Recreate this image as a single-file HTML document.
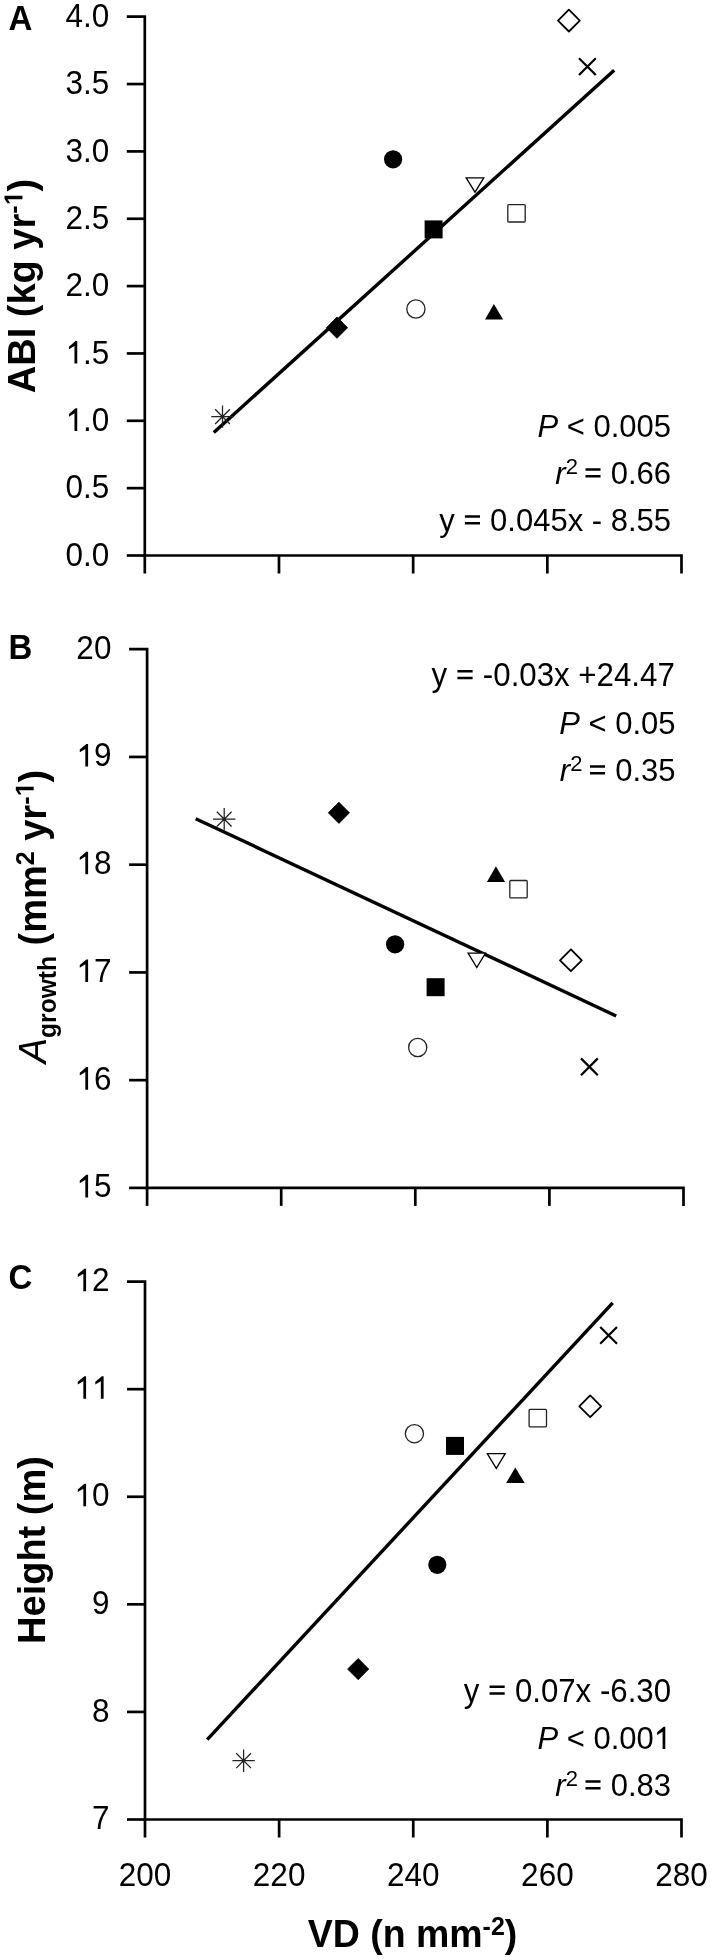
<!DOCTYPE html>
<html><head><meta charset="utf-8"><title>VD regressions</title>
<style>
html,body{margin:0;padding:0;background:#fff;}
body{width:711px;height:1960px;overflow:hidden;}
svg{display:block;will-change:transform;}
text{font-family:"Liberation Sans",sans-serif;fill:#000;}
.h{fill:transparent;}
</style></head><body>
<svg width="711" height="1960" viewBox="0 0 711 1960">
<rect width="711" height="1960" fill="#fff"/>
<path d="M126.8 16.7H144.8V555.5H681.5V573.5" fill="none" stroke="#000" stroke-width="2.7" stroke-linejoin="miter" stroke-linecap="butt"/>
<line x1="126.8" y1="84.05" x2="144.8" y2="84.05" stroke="#000" stroke-width="2.7"/>
<line x1="126.8" y1="151.4" x2="144.8" y2="151.4" stroke="#000" stroke-width="2.7"/>
<line x1="126.8" y1="218.75" x2="144.8" y2="218.75" stroke="#000" stroke-width="2.7"/>
<line x1="126.8" y1="286.1" x2="144.8" y2="286.1" stroke="#000" stroke-width="2.7"/>
<line x1="126.8" y1="353.45" x2="144.8" y2="353.45" stroke="#000" stroke-width="2.7"/>
<line x1="126.8" y1="420.8" x2="144.8" y2="420.8" stroke="#000" stroke-width="2.7"/>
<line x1="126.8" y1="488.15" x2="144.8" y2="488.15" stroke="#000" stroke-width="2.7"/>
<line x1="126.8" y1="555.5" x2="144.8" y2="555.5" stroke="#000" stroke-width="2.7"/>
<line x1="144.8" y1="555.5" x2="144.8" y2="573.5" stroke="#000" stroke-width="2.7"/>
<line x1="278.98" y1="555.5" x2="278.98" y2="573.5" stroke="#000" stroke-width="2.7"/>
<line x1="413.15" y1="555.5" x2="413.15" y2="573.5" stroke="#000" stroke-width="2.7"/>
<line x1="547.33" y1="555.5" x2="547.33" y2="573.5" stroke="#000" stroke-width="2.7"/>
<line x1="213.8" y1="432.5" x2="614.2" y2="70.3" stroke="#000" stroke-width="3.4" stroke-linecap="butt"/>
<path d="M211.3 416.6H233.7M222.5 405.4V427.8M215.1 409.2L229.9 424M215.1 424L229.9 409.2" stroke="#222" stroke-width="1.25" fill="none"/>
<path d="M337 317.1L347.6 327.7L337 338.3L326.4 327.7Z" fill="#000" stroke="#000" stroke-width="0.8" stroke-linejoin="round"/>
<circle cx="393.1" cy="159.3" r="9.1" fill="#000"/>
<circle cx="415.9" cy="309" r="9.1" fill="#fff" stroke="#222" stroke-width="1.3"/>
<rect x="424.6" y="220.4" width="18" height="18" fill="#000"/>
<path d="M466.2 177.9H483.8L475 192.2Z" fill="#fff" stroke="#000" stroke-width="1.3" stroke-linejoin="miter"/>
<path d="M493.9 304.1L503.1 319.6H485Z" fill="#000"/>
<rect x="507.8" y="204.6" width="17.4" height="17.4" fill="#fff" stroke="#222" stroke-width="1.3" rx="1"/>
<path d="M568.9 9.7L579.8 20.6L568.9 31.5L558 20.6Z" fill="#fff" stroke="#000" stroke-width="1.8" stroke-linejoin="round"/>
<path d="M579 58.2L595.8 75M579 75L595.8 58.2" stroke="#000" stroke-width="2.2" fill="none"/>
<path d="M129.1 649.2H147.1V1187.9H683.5V1205.9" fill="none" stroke="#000" stroke-width="2.7" stroke-linejoin="miter" stroke-linecap="butt"/>
<line x1="129.1" y1="756.94" x2="147.1" y2="756.94" stroke="#000" stroke-width="2.7"/>
<line x1="129.1" y1="864.68" x2="147.1" y2="864.68" stroke="#000" stroke-width="2.7"/>
<line x1="129.1" y1="972.42" x2="147.1" y2="972.42" stroke="#000" stroke-width="2.7"/>
<line x1="129.1" y1="1080.16" x2="147.1" y2="1080.16" stroke="#000" stroke-width="2.7"/>
<line x1="129.1" y1="1187.9" x2="147.1" y2="1187.9" stroke="#000" stroke-width="2.7"/>
<line x1="147.1" y1="1187.9" x2="147.1" y2="1205.9" stroke="#000" stroke-width="2.7"/>
<line x1="281.2" y1="1187.9" x2="281.2" y2="1205.9" stroke="#000" stroke-width="2.7"/>
<line x1="415.3" y1="1187.9" x2="415.3" y2="1205.9" stroke="#000" stroke-width="2.7"/>
<line x1="549.4" y1="1187.9" x2="549.4" y2="1205.9" stroke="#000" stroke-width="2.7"/>
<line x1="195.7" y1="818.7" x2="616.2" y2="1016" stroke="#000" stroke-width="3.4" stroke-linecap="butt"/>
<path d="M213 819.1H235.4M224.2 807.9V830.3M216.8 811.7L231.6 826.5M216.8 826.5L231.6 811.7" stroke="#222" stroke-width="1.25" fill="none"/>
<path d="M338.9 802.2L349.5 812.8L338.9 823.4L328.3 812.8Z" fill="#000" stroke="#000" stroke-width="0.8" stroke-linejoin="round"/>
<path d="M495.9 866.2L505.1 882H486.9Z" fill="#000"/>
<rect x="509.8" y="880.5" width="17.4" height="17.4" fill="#fff" stroke="#222" stroke-width="1.3" rx="1"/>
<circle cx="395.1" cy="944.3" r="9.1" fill="#000"/>
<path d="M468.1 953.1H485.5L476.8 967.5Z" fill="#fff" stroke="#000" stroke-width="1.3" stroke-linejoin="miter"/>
<rect x="426.6" y="978.2" width="18" height="18" fill="#000"/>
<circle cx="417.7" cy="1047.5" r="9.1" fill="#fff" stroke="#222" stroke-width="1.3"/>
<path d="M570.9 949.4L581.8 960.3L570.9 971.2L560 960.3Z" fill="#fff" stroke="#000" stroke-width="1.8" stroke-linejoin="round"/>
<path d="M581 1058.4L597.8 1075.2M581 1075.2L597.8 1058.4" stroke="#000" stroke-width="2.2" fill="none"/>
<path d="M127 1281.6H145V1819.5H681.5V1837.5" fill="none" stroke="#000" stroke-width="2.7" stroke-linejoin="miter" stroke-linecap="butt"/>
<line x1="127" y1="1389.18" x2="145" y2="1389.18" stroke="#000" stroke-width="2.7"/>
<line x1="127" y1="1496.76" x2="145" y2="1496.76" stroke="#000" stroke-width="2.7"/>
<line x1="127" y1="1604.34" x2="145" y2="1604.34" stroke="#000" stroke-width="2.7"/>
<line x1="127" y1="1711.92" x2="145" y2="1711.92" stroke="#000" stroke-width="2.7"/>
<line x1="127" y1="1819.5" x2="145" y2="1819.5" stroke="#000" stroke-width="2.7"/>
<line x1="145" y1="1819.5" x2="145" y2="1837.5" stroke="#000" stroke-width="2.7"/>
<line x1="279.12" y1="1819.5" x2="279.12" y2="1837.5" stroke="#000" stroke-width="2.7"/>
<line x1="413.25" y1="1819.5" x2="413.25" y2="1837.5" stroke="#000" stroke-width="2.7"/>
<line x1="547.38" y1="1819.5" x2="547.38" y2="1837.5" stroke="#000" stroke-width="2.7"/>
<line x1="207.2" y1="1739.6" x2="612.7" y2="1302.9" stroke="#000" stroke-width="3.4" stroke-linecap="butt"/>
<path d="M232.4 1760.7H254.8M243.6 1749.5V1771.9M236.2 1753.3L251 1768.1M236.2 1768.1L251 1753.3" stroke="#222" stroke-width="1.25" fill="none"/>
<path d="M358.2 1658.5L368.8 1669.1L358.2 1679.7L347.6 1669.1Z" fill="#000" stroke="#000" stroke-width="0.8" stroke-linejoin="round"/>
<circle cx="437.3" cy="1564.8" r="9.1" fill="#000"/>
<circle cx="414.4" cy="1433.7" r="9.1" fill="#fff" stroke="#222" stroke-width="1.3"/>
<rect x="446" y="1436.9" width="18" height="18" fill="#000"/>
<path d="M487.3 1453.7H505.2L496.25 1468.4Z" fill="#fff" stroke="#000" stroke-width="1.3" stroke-linejoin="miter"/>
<path d="M515.3 1467.4L524.7 1483H506.1Z" fill="#000"/>
<rect x="529.1" y="1409.4" width="17.4" height="17.4" fill="#fff" stroke="#222" stroke-width="1.3" rx="1"/>
<path d="M590.2 1395.4L601.1 1406.3L590.2 1417.2L579.3 1406.3Z" fill="#fff" stroke="#000" stroke-width="1.8" stroke-linejoin="round"/>
<path d="M600.2 1327L617 1343.8M600.2 1343.8L617 1327" stroke="#000" stroke-width="2.2" fill="none"/>
<text transform="translate(109.3 26.8) scale(1 1.04)" text-anchor="end" font-size="31.5">4.0</text>
<text transform="translate(109.3 94.15) scale(1 1.04)" text-anchor="end" font-size="31.5">3.5</text>
<text transform="translate(109.3 161.5) scale(1 1.04)" text-anchor="end" font-size="31.5">3.0</text>
<text transform="translate(109.3 228.85) scale(1 1.04)" text-anchor="end" font-size="31.5">2.5</text>
<text transform="translate(109.3 296.2) scale(1 1.04)" text-anchor="end" font-size="31.5">2.0</text>
<text transform="translate(109.3 363.55) scale(1 1.04)" text-anchor="end" font-size="31.5"><tspan class="h" data-g="1">1</tspan>.5</text>
<text transform="translate(109.3 430.9) scale(1 1.04)" text-anchor="end" font-size="31.5"><tspan class="h" data-g="1">1</tspan>.0</text>
<text transform="translate(109.3 498.25) scale(1 1.04)" text-anchor="end" font-size="31.5">0.5</text>
<text transform="translate(109.3 565.6) scale(1 1.04)" text-anchor="end" font-size="31.5">0.0</text>
<text transform="translate(111.4 658.7) scale(1 1.04)" text-anchor="end" font-size="31.5">20</text>
<text transform="translate(111.4 766.44) scale(1 1.04)" text-anchor="end" font-size="31.5"><tspan class="h" data-g="1">1</tspan>9</text>
<text transform="translate(111.4 874.18) scale(1 1.04)" text-anchor="end" font-size="31.5"><tspan class="h" data-g="1">1</tspan>8</text>
<text transform="translate(111.4 981.92) scale(1 1.04)" text-anchor="end" font-size="31.5"><tspan class="h" data-g="1">1</tspan>7</text>
<text transform="translate(111.4 1089.66) scale(1 1.04)" text-anchor="end" font-size="31.5"><tspan class="h" data-g="1">1</tspan>6</text>
<text transform="translate(111.4 1197.4) scale(1 1.04)" text-anchor="end" font-size="31.5"><tspan class="h" data-g="1">1</tspan>5</text>
<text transform="translate(109.4 1291.2) scale(1 1.04)" text-anchor="end" font-size="31.5"><tspan class="h" data-g="1">1</tspan>2</text>
<text transform="translate(109.4 1398.78) scale(1 1.04)" text-anchor="end" font-size="31.5"><tspan class="h" data-g="1">1</tspan><tspan class="h" data-g="1">1</tspan></text>
<text transform="translate(109.4 1506.36) scale(1 1.04)" text-anchor="end" font-size="31.5"><tspan class="h" data-g="1">1</tspan>0</text>
<text transform="translate(109.4 1613.94) scale(1 1.04)" text-anchor="end" font-size="31.5">9</text>
<text transform="translate(109.4 1721.52) scale(1 1.04)" text-anchor="end" font-size="31.5">8</text>
<text transform="translate(109.4 1829.1) scale(1 1.04)" text-anchor="end" font-size="31.5">7</text>
<text transform="translate(145 1885.8) scale(1 1.04)" text-anchor="middle" font-size="31.5">200</text>
<text transform="translate(279.12 1885.8) scale(1 1.04)" text-anchor="middle" font-size="31.5">220</text>
<text transform="translate(413.25 1885.8) scale(1 1.04)" text-anchor="middle" font-size="31.5">240</text>
<text transform="translate(547.38 1885.8) scale(1 1.04)" text-anchor="middle" font-size="31.5">260</text>
<text transform="translate(681.5 1885.8) scale(1 1.04)" text-anchor="middle" font-size="31.5">280</text>
<text transform="translate(671 437) scale(1 1.04)" text-anchor="end" font-size="31"><tspan font-style="italic">P</tspan> &lt; 0.005</text>
<text transform="translate(671 484) scale(1 1.04)" text-anchor="end" font-size="31"><tspan font-style="italic">r</tspan><tspan font-size="22" dy="-9.6">2 </tspan><tspan dy="9.6"><tspan class="h" data-g="=">=</tspan> 0.66</tspan></text>
<text transform="translate(671 531) scale(1 1.04)" text-anchor="end" font-size="31">y <tspan class="h" data-g="=">=</tspan> 0.045x - 8.55</text>
<text transform="translate(674.8 686) scale(1 1.04)" text-anchor="end" font-size="31.25">y <tspan class="h" data-g="=">=</tspan> -0.03x +24.47</text>
<text transform="translate(675.5 733.5) scale(1 1.04)" text-anchor="end" font-size="31"><tspan font-style="italic">P</tspan> &lt; 0.05</text>
<text transform="translate(675.5 781) scale(1 1.04)" text-anchor="end" font-size="31"><tspan font-style="italic">r</tspan><tspan font-size="22" dy="-9.6">2 </tspan><tspan dy="9.6"><tspan class="h" data-g="=">=</tspan> 0.35</tspan></text>
<text transform="translate(671 1701.5) scale(1 1.04)" text-anchor="end" font-size="31.2">y <tspan class="h" data-g="=">=</tspan> 0.07x -6.30</text>
<text transform="translate(671 1749) scale(1 1.04)" text-anchor="end" font-size="31"><tspan font-style="italic">P</tspan> &lt; 0.00<tspan class="h" data-g="1">1</tspan></text>
<text transform="translate(671 1796) scale(1 1.04)" text-anchor="end" font-size="31"><tspan font-style="italic">r</tspan><tspan font-size="22" dy="-9.6">2 </tspan><tspan dy="9.6"><tspan class="h" data-g="=">=</tspan> 0.83</tspan></text>
<text transform="translate(8.5 29.9) scale(1 1.04)" font-size="33" font-weight="bold">A</text>
<text transform="translate(8.5 658.8) scale(1 1.04)" font-size="33" font-weight="bold">B</text>
<text transform="translate(8.5 1288.6) scale(1 1.04)" font-size="33" font-weight="bold">C</text>
<text transform="translate(35 286) rotate(-90) scale(1 1.04)" text-anchor="middle" font-size="38" font-weight="bold">ABI (kg yr<tspan font-size="25" dy="-12.1">-<tspan class="h" data-g="1">1</tspan></tspan><tspan dy="12.1">)</tspan></text>
<text transform="translate(46.3 916.6) rotate(-90) scale(1 1.04)" text-anchor="middle" font-size="38" font-weight="bold"><tspan font-style="italic" font-weight="normal">A</tspan><tspan font-size="24.6" dy="9.4">growth</tspan><tspan dy="-9.4"> (mm</tspan><tspan font-size="25" dy="-12.1">2</tspan><tspan dy="12.1"> yr</tspan><tspan font-size="25" dy="-12.1">-<tspan class="h" data-g="1">1</tspan></tspan><tspan dy="12.1">)</tspan></text>
<text transform="translate(44.7 1550) rotate(-90) scale(1 1.04)" text-anchor="middle" font-size="38" font-weight="bold">Height (m)</text>
<text transform="translate(412.5 1947.3) scale(1 1.04)" text-anchor="middle" font-size="37.5" font-weight="bold">VD (n mm<tspan font-size="25" dy="-12.1">-2</tspan><tspan dy="12.1">)</tspan></text>
<g fill="#000">
<path transform="translate(109.3 363.55) scale(1 1.04) translate(-43.788 0.000) scale(0.015381 -0.015381)" d="M763,0 L583,0 L583,1098 L223,891 L223,1058 L651,1409 L763,1409 Z"/>
<path transform="translate(109.3 430.9) scale(1 1.04) translate(-43.788 0.000) scale(0.015381 -0.015381)" d="M763,0 L583,0 L583,1098 L223,891 L223,1058 L651,1409 L763,1409 Z"/>
<path transform="translate(111.4 766.44) scale(1 1.04) translate(-35.042 0.000) scale(0.015381 -0.015381)" d="M763,0 L583,0 L583,1098 L223,891 L223,1058 L651,1409 L763,1409 Z"/>
<path transform="translate(111.4 874.18) scale(1 1.04) translate(-35.042 0.000) scale(0.015381 -0.015381)" d="M763,0 L583,0 L583,1098 L223,891 L223,1058 L651,1409 L763,1409 Z"/>
<path transform="translate(111.4 981.92) scale(1 1.04) translate(-35.042 0.000) scale(0.015381 -0.015381)" d="M763,0 L583,0 L583,1098 L223,891 L223,1058 L651,1409 L763,1409 Z"/>
<path transform="translate(111.4 1089.66) scale(1 1.04) translate(-35.042 0.000) scale(0.015381 -0.015381)" d="M763,0 L583,0 L583,1098 L223,891 L223,1058 L651,1409 L763,1409 Z"/>
<path transform="translate(111.4 1197.4) scale(1 1.04) translate(-35.042 0.000) scale(0.015381 -0.015381)" d="M763,0 L583,0 L583,1098 L223,891 L223,1058 L651,1409 L763,1409 Z"/>
<path transform="translate(109.4 1291.2) scale(1 1.04) translate(-35.042 0.000) scale(0.015381 -0.015381)" d="M763,0 L583,0 L583,1098 L223,891 L223,1058 L651,1409 L763,1409 Z"/>
<path transform="translate(109.4 1398.78) scale(1 1.04) translate(-35.042 0.000) scale(0.015381 -0.015381)" d="M763,0 L583,0 L583,1098 L223,891 L223,1058 L651,1409 L763,1409 Z"/>
<path transform="translate(109.4 1398.78) scale(1 1.04) translate(-17.521 0.000) scale(0.015381 -0.015381)" d="M763,0 L583,0 L583,1098 L223,891 L223,1058 L651,1409 L763,1409 Z"/>
<path transform="translate(109.4 1506.36) scale(1 1.04) translate(-35.042 0.000) scale(0.015381 -0.015381)" d="M763,0 L583,0 L583,1098 L223,891 L223,1058 L651,1409 L763,1409 Z"/>
<path transform="translate(671 484) scale(1 1.04) translate(-87.024 0.000) scale(0.015137 -0.015137)" d="M100,420 H1095 V578 H100 Z M100,845 H1095 V1005 H100 Z"/>
<path transform="translate(671 531) scale(1 1.04) translate(-207.589 0.000) scale(0.015137 -0.015137)" d="M100,420 H1095 V578 H100 Z M100,845 H1095 V1005 H100 Z"/>
<path transform="translate(674.8 686) scale(1 1.04) translate(-218.892 0.000) scale(0.015259 -0.015259)" d="M100,420 H1095 V578 H100 Z M100,845 H1095 V1005 H100 Z"/>
<path transform="translate(675.5 781) scale(1 1.04) translate(-87.024 0.000) scale(0.015137 -0.015137)" d="M100,420 H1095 V578 H100 Z M100,845 H1095 V1005 H100 Z"/>
<path transform="translate(671 1701.5) scale(1 1.04) translate(-182.992 0.000) scale(0.015234 -0.015234)" d="M100,420 H1095 V578 H100 Z M100,845 H1095 V1005 H100 Z"/>
<path transform="translate(671 1749) scale(1 1.04) translate(-17.245 0.000) scale(0.015137 -0.015137)" d="M763,0 L583,0 L583,1098 L223,891 L223,1058 L651,1409 L763,1409 Z"/>
<path transform="translate(671 1796) scale(1 1.04) translate(-87.024 0.000) scale(0.015137 -0.015137)" d="M100,420 H1095 V578 H100 Z M100,845 H1095 V1005 H100 Z"/>
<path transform="translate(35 286) rotate(-90) scale(1 1.04) translate(80.591 -12.100) scale(0.012207 -0.012207)" d="M792,0 L511,0 L511,1170 L173,959 L173,1180 L526,1409 L792,1409 Z"/>
<path transform="translate(46.3 916.6) rotate(-90) scale(1 1.04) translate(120.090 -12.100) scale(0.012207 -0.012207)" d="M792,0 L511,0 L511,1170 L173,959 L173,1180 L526,1409 L792,1409 Z"/>
</g>
</svg>
</body></html>
